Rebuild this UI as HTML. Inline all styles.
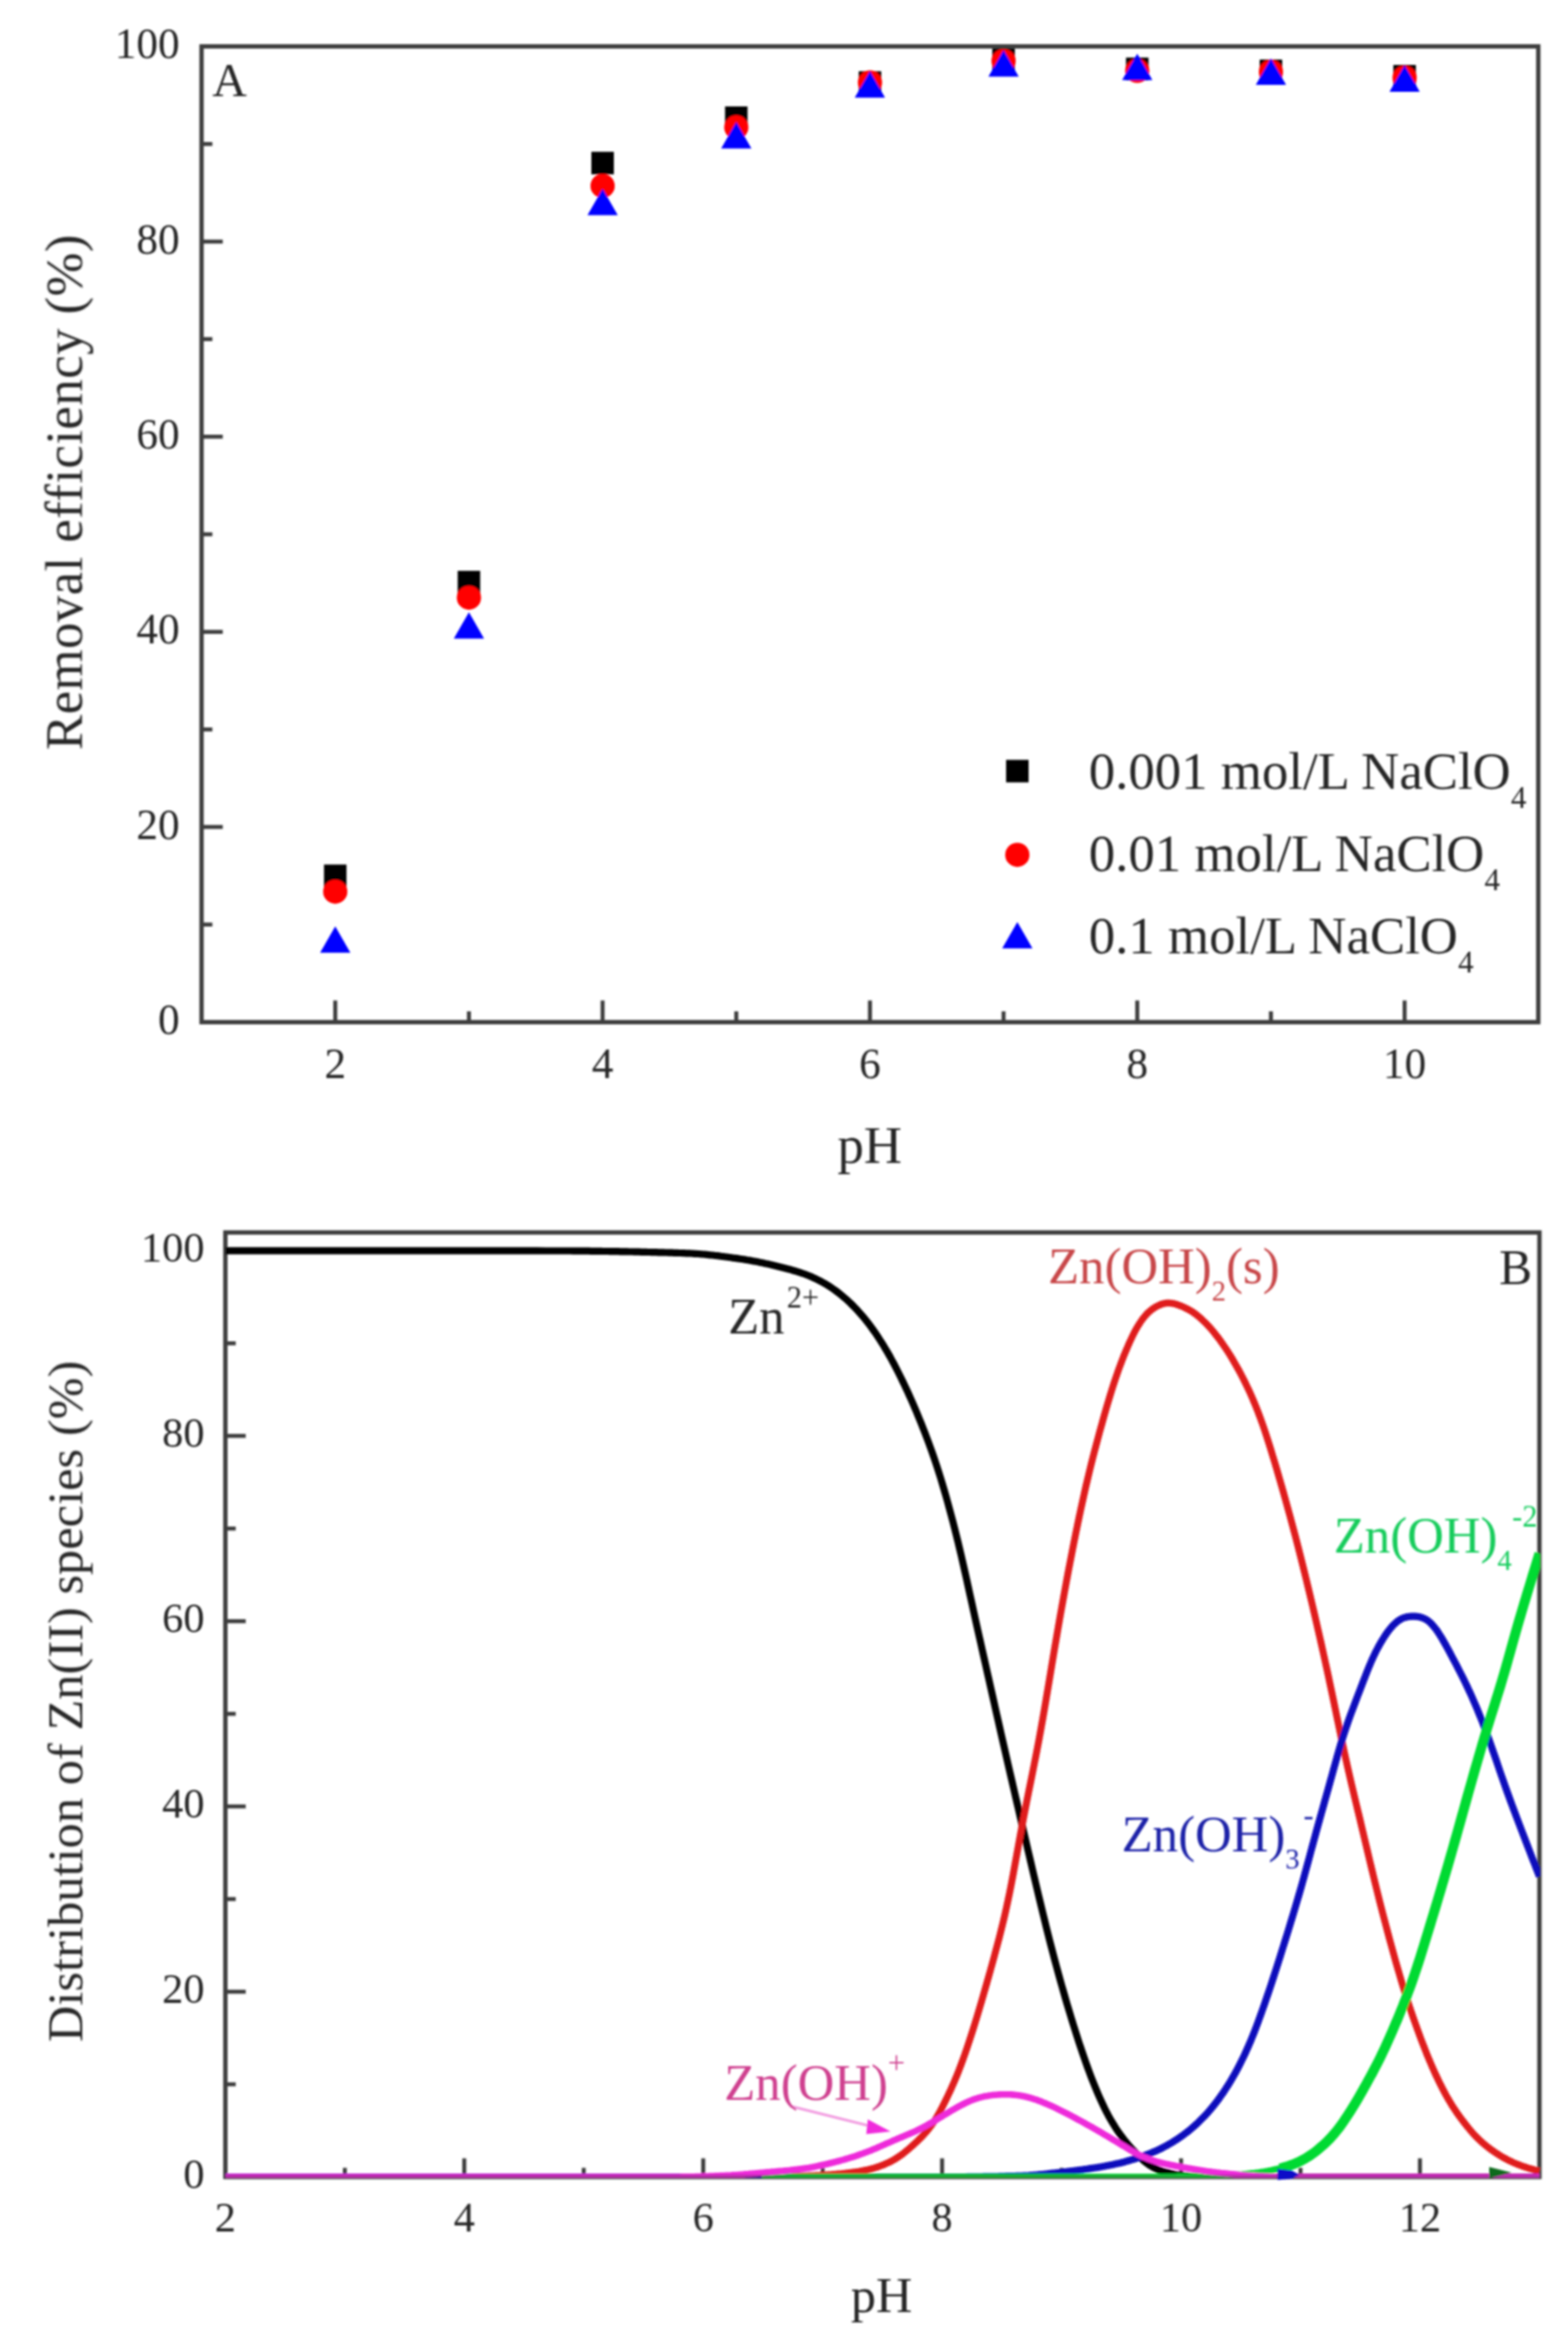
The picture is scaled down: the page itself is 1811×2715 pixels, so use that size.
<!DOCTYPE html>
<html lang="en">
<head>
<meta charset="utf-8">
<title>Removal efficiency and Zn(II) species distribution versus pH</title>
<style>
html,body{margin:0;padding:0;background:#ffffff;}
body{width:1811px;height:2715px;overflow:hidden;}
svg{display:block;}
svg text{font-family:"Liberation Serif", serif;}
</style>
</head>
<body>
<svg width="1811" height="2715" viewBox="0 0 1811 2715">
<rect x="0" y="0" width="1811" height="2715" fill="#ffffff"/>
<defs>
<filter id="soft" x="0" y="0" width="1811" height="2715" filterUnits="userSpaceOnUse"><feGaussianBlur stdDeviation="1.15"/></filter>
<filter id="soft2" x="0" y="0" width="1811" height="2715" filterUnits="userSpaceOnUse"><feGaussianBlur stdDeviation="0.6"/></filter>
</defs>
<g id="fig" filter="url(#soft)" fill="#262626">
<g id="plotA">
<line x1="232.8" y1="1067.7" x2="245.3" y2="1067.7" stroke="#3c3c3c" stroke-width="4.6"/>
<line x1="232.8" y1="955.0" x2="257.3" y2="955.0" stroke="#3c3c3c" stroke-width="4.6"/>
<line x1="232.8" y1="842.4" x2="245.3" y2="842.4" stroke="#3c3c3c" stroke-width="4.6"/>
<line x1="232.8" y1="729.7" x2="257.3" y2="729.7" stroke="#3c3c3c" stroke-width="4.6"/>
<line x1="232.8" y1="617.0" x2="245.3" y2="617.0" stroke="#3c3c3c" stroke-width="4.6"/>
<line x1="232.8" y1="504.3" x2="257.3" y2="504.3" stroke="#3c3c3c" stroke-width="4.6"/>
<line x1="232.8" y1="391.6" x2="245.3" y2="391.6" stroke="#3c3c3c" stroke-width="4.6"/>
<line x1="232.8" y1="279.0" x2="257.3" y2="279.0" stroke="#3c3c3c" stroke-width="4.6"/>
<line x1="232.8" y1="166.3" x2="245.3" y2="166.3" stroke="#3c3c3c" stroke-width="4.6"/>
<line x1="387.2" y1="1180.4" x2="387.2" y2="1155.4" stroke="#3c3c3c" stroke-width="4.6"/>
<line x1="541.6" y1="1180.4" x2="541.6" y2="1167.9" stroke="#3c3c3c" stroke-width="4.6"/>
<line x1="696.0" y1="1180.4" x2="696.0" y2="1155.4" stroke="#3c3c3c" stroke-width="4.6"/>
<line x1="850.4" y1="1180.4" x2="850.4" y2="1167.9" stroke="#3c3c3c" stroke-width="4.6"/>
<line x1="1004.8" y1="1180.4" x2="1004.8" y2="1155.4" stroke="#3c3c3c" stroke-width="4.6"/>
<line x1="1159.1" y1="1180.4" x2="1159.1" y2="1167.9" stroke="#3c3c3c" stroke-width="4.6"/>
<line x1="1313.5" y1="1180.4" x2="1313.5" y2="1155.4" stroke="#3c3c3c" stroke-width="4.6"/>
<line x1="1467.9" y1="1180.4" x2="1467.9" y2="1167.9" stroke="#3c3c3c" stroke-width="4.6"/>
<line x1="1622.3" y1="1180.4" x2="1622.3" y2="1155.4" stroke="#3c3c3c" stroke-width="4.6"/>
<rect x="374.2" y="998.4" width="26.0" height="26.0" fill="#000"/>
<rect x="528.6" y="659.2" width="26.0" height="26.0" fill="#000"/>
<rect x="683.0" y="175.3" width="26.0" height="26.0" fill="#000"/>
<rect x="837.4" y="122.9" width="26.0" height="26.0" fill="#000"/>
<rect x="991.8" y="82.3" width="26.0" height="26.0" fill="#000"/>
<rect x="1146.1" y="55.2" width="26.0" height="26.0" fill="#000"/>
<rect x="1300.5" y="66.5" width="26.0" height="26.0" fill="#000"/>
<rect x="1454.9" y="68.8" width="26.0" height="26.0" fill="#000"/>
<rect x="1609.3" y="75.0" width="26.0" height="26.0" fill="#000"/>
<circle cx="387.2" cy="1029.7" r="14.0" fill="#ff0000"/>
<circle cx="541.6" cy="690.2" r="14.0" fill="#ff0000"/>
<circle cx="696.0" cy="214.7" r="14.0" fill="#ff0000"/>
<circle cx="850.4" cy="147.1" r="14.0" fill="#ff0000"/>
<circle cx="1004.8" cy="95.3" r="14.0" fill="#ff0000"/>
<circle cx="1159.1" cy="70.5" r="14.0" fill="#ff0000"/>
<circle cx="1313.5" cy="81.8" r="14.0" fill="#ff0000"/>
<circle cx="1467.9" cy="82.9" r="14.0" fill="#ff0000"/>
<circle cx="1622.3" cy="89.7" r="14.0" fill="#ff0000"/>
<polygon points="387.2,1069.7 404.7,1100.2 369.7,1100.2" fill="#0000ff"/>
<polygon points="541.6,707.0 559.1,737.5 524.1,737.5" fill="#0000ff"/>
<polygon points="696.0,218.1 713.5,248.6 678.5,248.6" fill="#0000ff"/>
<polygon points="850.4,140.9 867.9,171.4 832.9,171.4" fill="#0000ff"/>
<polygon points="1004.8,82.3 1022.2,112.8 987.2,112.8" fill="#0000ff"/>
<polygon points="1159.1,58.1 1176.6,88.6 1141.6,88.6" fill="#0000ff"/>
<polygon points="1313.5,62.0 1331.0,92.5 1296.0,92.5" fill="#0000ff"/>
<polygon points="1467.9,67.6 1485.4,98.1 1450.4,98.1" fill="#0000ff"/>
<polygon points="1622.3,75.5 1639.8,106.0 1604.8,106.0" fill="#0000ff"/>
<rect x="232.8" y="53.6" width="1543.9" height="1126.8" fill="none" stroke="#3c3c3c" stroke-width="5.0"/>
<text x="207.5" y="1193.9" font-size="50" text-anchor="end">0</text>
<text x="207.5" y="968.5" font-size="50" text-anchor="end">20</text>
<text x="207.5" y="743.2" font-size="50" text-anchor="end">40</text>
<text x="207.5" y="517.8" font-size="50" text-anchor="end">60</text>
<text x="207.5" y="292.5" font-size="50" text-anchor="end">80</text>
<text x="207.5" y="67.1" font-size="50" text-anchor="end">100</text>
<text x="387.2" y="1244.5" font-size="50" text-anchor="middle">2</text>
<text x="696.0" y="1244.5" font-size="50" text-anchor="middle">4</text>
<text x="1004.8" y="1244.5" font-size="50" text-anchor="middle">6</text>
<text x="1313.5" y="1244.5" font-size="50" text-anchor="middle">8</text>
<text x="1622.3" y="1244.5" font-size="50" text-anchor="middle">10</text>
<text x="1004.6" y="1343" font-size="61" text-anchor="middle">pH</text>
<text transform="translate(94.6,568.2) rotate(-90)" font-size="61" letter-spacing="0.5" text-anchor="middle">Removal efficiency (%)</text>
<text x="245.3" y="110.5" font-size="55">A</text>
<text x="1257.5" y="911.3" font-size="61">0.001 mol/L NaClO<tspan dy="22" font-size="36">4</tspan></text>
<text x="1257.5" y="1005.8" font-size="61">0.01 mol/L NaClO<tspan dy="22" font-size="36">4</tspan></text>
<text x="1257.5" y="1101.3" font-size="61">0.1 mol/L NaClO<tspan dy="22" font-size="36">4</tspan></text>
<rect x="1162.0" y="877.5" width="26.0" height="26.0" fill="#000"/>
<circle cx="1175.0" cy="987.2" r="14.0" fill="#ff0000"/>
<polygon points="1175.0,1064.8 1192.5,1095.2 1157.5,1095.2" fill="#0000ff"/>
</g>
<g id="plotB">
<rect x="260.3" y="1423.3" width="1517.7" height="1090.7" fill="none" stroke="#3c3c3c" stroke-width="5.0"/>
<line x1="260.3" y1="2407.0" x2="272.3" y2="2407.0" stroke="#3c3c3c" stroke-width="4.6"/>
<line x1="260.3" y1="2300.1" x2="283.8" y2="2300.1" stroke="#3c3c3c" stroke-width="4.6"/>
<line x1="260.3" y1="2193.1" x2="272.3" y2="2193.1" stroke="#3c3c3c" stroke-width="4.6"/>
<line x1="260.3" y1="2086.1" x2="283.8" y2="2086.1" stroke="#3c3c3c" stroke-width="4.6"/>
<line x1="260.3" y1="1979.2" x2="272.3" y2="1979.2" stroke="#3c3c3c" stroke-width="4.6"/>
<line x1="260.3" y1="1872.2" x2="283.8" y2="1872.2" stroke="#3c3c3c" stroke-width="4.6"/>
<line x1="260.3" y1="1765.2" x2="272.3" y2="1765.2" stroke="#3c3c3c" stroke-width="4.6"/>
<line x1="260.3" y1="1658.2" x2="283.8" y2="1658.2" stroke="#3c3c3c" stroke-width="4.6"/>
<line x1="260.3" y1="1551.3" x2="272.3" y2="1551.3" stroke="#3c3c3c" stroke-width="4.6"/>
<line x1="260.3" y1="1444.3" x2="283.8" y2="1444.3" stroke="#3c3c3c" stroke-width="4.6"/>
<line x1="398.3" y1="2511.0" x2="398.3" y2="2503.5" stroke="#3c3c3c" stroke-width="4.6"/>
<line x1="536.2" y1="2511.0" x2="536.2" y2="2492.5" stroke="#3c3c3c" stroke-width="4.6"/>
<line x1="674.2" y1="2511.0" x2="674.2" y2="2503.5" stroke="#3c3c3c" stroke-width="4.6"/>
<line x1="812.2" y1="2511.0" x2="812.2" y2="2492.5" stroke="#3c3c3c" stroke-width="4.6"/>
<line x1="950.2" y1="2511.0" x2="950.2" y2="2503.5" stroke="#3c3c3c" stroke-width="4.6"/>
<line x1="1088.1" y1="2511.0" x2="1088.1" y2="2492.5" stroke="#3c3c3c" stroke-width="4.6"/>
<line x1="1226.1" y1="2511.0" x2="1226.1" y2="2503.5" stroke="#3c3c3c" stroke-width="4.6"/>
<line x1="1364.1" y1="2511.0" x2="1364.1" y2="2492.5" stroke="#3c3c3c" stroke-width="4.6"/>
<line x1="1502.1" y1="2511.0" x2="1502.1" y2="2503.5" stroke="#3c3c3c" stroke-width="4.6"/>
<line x1="1640.0" y1="2511.0" x2="1640.0" y2="2492.5" stroke="#3c3c3c" stroke-width="4.6"/>
<clipPath id="cb"><rect x="260.3" y="1423.3" width="1518.5" height="1091.7"/></clipPath>
<g clip-path="url(#cb)" fill="none" stroke-linejoin="round" stroke-linecap="butt" filter="url(#soft2)">
<path d="M260.3,1444.3 L548.3,1444.3 L568.3,1444.3 L584.3,1444.4 L598.3,1444.4 L610.3,1444.4 L620.3,1444.4 L630.3,1444.5 L640.3,1444.5 L648.3,1444.5 L654.3,1444.5 L658.3,1444.5 L662.3,1444.6 L666.3,1444.6 L670.3,1444.6 L672.3,1444.7 L674.3,1444.7 L676.3,1444.7 L678.3,1444.7 L680.3,1444.7 L682.3,1444.8 L684.3,1444.8 L686.3,1444.8 L688.3,1444.8 L690.3,1444.9 L692.3,1444.9 L694.3,1444.9 L696.3,1445.0 L698.3,1445.0 L700.3,1445.0 L702.3,1445.0 L704.3,1445.1 L706.3,1445.1 L708.3,1445.1 L710.3,1445.2 L712.3,1445.2 L714.3,1445.2 L716.3,1445.3 L718.3,1445.3 L720.3,1445.3 L722.3,1445.4 L724.3,1445.4 L726.3,1445.5 L728.3,1445.5 L730.3,1445.5 L732.3,1445.6 L734.3,1445.6 L736.3,1445.7 L738.3,1445.7 L740.3,1445.8 L742.3,1445.8 L744.3,1445.9 L746.3,1445.9 L748.3,1446.0 L750.3,1446.0 L752.3,1446.1 L754.3,1446.1 L756.3,1446.2 L758.3,1446.2 L760.3,1446.3 L762.3,1446.3 L764.3,1446.4 L766.3,1446.4 L768.3,1446.5 L770.3,1446.5 L772.3,1446.6 L774.3,1446.6 L776.3,1446.7 L778.3,1446.8 L780.3,1446.8 L782.3,1446.9 L784.3,1447.0 L786.3,1447.0 L788.3,1447.1 L790.3,1447.2 L792.3,1447.3 L794.3,1447.3 L796.3,1447.4 L798.3,1447.5 L800.3,1447.6 L802.3,1447.8 L804.3,1447.9 L806.3,1448.0 L808.3,1448.2 L810.3,1448.3 L812.3,1448.5 L814.3,1448.7 L816.3,1448.9 L818.3,1449.1 L820.3,1449.3 L822.3,1449.5 L824.3,1449.7 L826.3,1450.0 L828.3,1450.2 L830.3,1450.4 L832.3,1450.7 L834.3,1451.0 L836.3,1451.2 L838.3,1451.5 L840.3,1451.7 L842.3,1452.0 L844.3,1452.3 L846.3,1452.6 L848.3,1452.8 L850.3,1453.1 L852.3,1453.4 L854.3,1453.7 L856.3,1454.0 L858.3,1454.3 L860.3,1454.6 L862.3,1455.0 L864.3,1455.3 L866.3,1455.6 L868.3,1456.0 L870.3,1456.4 L872.3,1456.7 L874.3,1457.1 L876.3,1457.5 L878.3,1457.9 L880.3,1458.3 L882.3,1458.7 L884.3,1459.2 L886.3,1459.6 L888.3,1460.1 L890.3,1460.5 L892.3,1461.0 L894.3,1461.5 L896.3,1462.0 L898.3,1462.5 L900.3,1463.0 L902.3,1463.5 L904.3,1464.0 L906.3,1464.5 L908.3,1465.0 L910.3,1465.6 L912.3,1466.1 L914.3,1466.6 L916.3,1467.2 L918.3,1467.8 L920.3,1468.4 L922.3,1469.0 L924.3,1469.6 L926.3,1470.3 L928.3,1471.0 L930.3,1471.7 L932.3,1472.5 L934.3,1473.3 L936.3,1474.1 L938.3,1475.0 L940.3,1475.9 L942.3,1476.8 L944.3,1477.8 L946.3,1478.8 L948.3,1479.9 L950.3,1481.0 L952.3,1482.1 L954.3,1483.3 L956.3,1484.5 L958.3,1485.8 L960.3,1487.1 L962.3,1488.5 L964.3,1489.9 L966.3,1491.4 L968.3,1492.9 L970.3,1494.5 L972.3,1496.1 L974.3,1497.8 L976.3,1499.5 L978.3,1501.3 L980.3,1503.1 L982.3,1505.0 L984.3,1507.0 L986.3,1509.0 L988.3,1511.1 L990.3,1513.2 L992.3,1515.4 L994.3,1517.7 L996.3,1520.0 L998.3,1522.4 L1000.3,1524.9 L1002.3,1527.4 L1004.3,1530.0 L1006.3,1532.7 L1008.3,1535.5 L1010.3,1538.3 L1012.3,1541.3 L1014.3,1544.3 L1016.3,1547.4 L1018.3,1550.5 L1020.3,1553.7 L1022.3,1557.0 L1024.3,1560.4 L1026.3,1563.9 L1028.3,1567.4 L1030.3,1571.1 L1032.3,1574.8 L1034.3,1578.6 L1036.3,1582.5 L1038.3,1586.5 L1040.3,1590.5 L1042.3,1594.6 L1044.3,1598.8 L1046.3,1603.0 L1048.3,1607.3 L1050.3,1611.7 L1052.3,1616.1 L1054.3,1620.6 L1056.3,1625.3 L1058.3,1630.0 L1060.3,1634.8 L1062.3,1639.7 L1064.3,1644.6 L1066.3,1649.7 L1068.3,1654.8 L1070.3,1660.1 L1072.3,1665.4 L1074.3,1670.8 L1076.3,1676.4 L1078.3,1682.1 L1080.3,1688.0 L1082.3,1694.0 L1084.3,1700.2 L1086.3,1706.6 L1088.3,1713.2 L1090.3,1720.0 L1092.3,1726.9 L1094.3,1734.0 L1096.3,1741.3 L1098.3,1748.7 L1100.3,1756.3 L1102.3,1764.1 L1104.3,1772.0 L1106.3,1780.1 L1108.3,1788.5 L1110.3,1796.9 L1112.3,1805.6 L1114.3,1814.5 L1116.3,1823.4 L1118.3,1832.5 L1120.3,1841.6 L1122.3,1850.7 L1124.3,1859.8 L1126.3,1868.9 L1128.3,1877.9 L1130.3,1886.8 L1132.3,1895.7 L1134.3,1904.6 L1136.3,1913.5 L1138.3,1922.4 L1140.3,1931.3 L1142.3,1940.2 L1144.3,1949.1 L1146.3,1958.0 L1148.3,1966.9 L1150.3,1975.8 L1152.3,1984.7 L1154.3,1993.5 L1156.3,2002.3 L1158.3,2011.1 L1160.3,2019.9 L1162.3,2028.6 L1164.3,2037.3 L1166.3,2046.1 L1168.3,2054.7 L1170.3,2063.4 L1172.3,2072.1 L1174.3,2080.7 L1176.3,2089.3 L1178.3,2098.0 L1180.3,2106.6 L1182.3,2115.2 L1184.3,2123.8 L1186.3,2132.4 L1188.3,2140.9 L1190.3,2149.5 L1192.3,2158.1 L1194.3,2166.6 L1196.3,2175.1 L1198.3,2183.6 L1200.3,2192.0 L1202.3,2200.3 L1204.3,2208.6 L1206.3,2216.8 L1208.3,2224.9 L1210.3,2232.9 L1212.3,2240.9 L1214.3,2248.6 L1216.3,2256.3 L1218.3,2263.9 L1220.3,2271.3 L1222.3,2278.6 L1224.3,2285.9 L1226.3,2293.0 L1228.3,2300.0 L1230.3,2307.0 L1232.3,2313.8 L1234.3,2320.5 L1236.3,2327.2 L1238.3,2333.7 L1240.3,2340.1 L1242.3,2346.5 L1244.3,2352.7 L1246.3,2358.9 L1248.3,2364.9 L1250.3,2370.9 L1252.3,2376.7 L1254.3,2382.4 L1256.3,2388.0 L1258.3,2393.4 L1260.3,2398.7 L1262.3,2403.8 L1264.3,2408.8 L1266.3,2413.6 L1268.3,2418.3 L1270.3,2422.9 L1272.3,2427.3 L1274.3,2431.6 L1276.3,2435.7 L1278.3,2439.6 L1280.3,2443.4 L1282.3,2447.0 L1284.3,2450.4 L1286.3,2453.7 L1288.3,2456.9 L1290.3,2459.9 L1292.3,2462.8 L1294.3,2465.6 L1296.3,2468.3 L1298.3,2470.9 L1300.3,2473.4 L1302.3,2475.8 L1304.3,2478.1 L1306.3,2480.4 L1308.3,2482.6 L1310.3,2484.7 L1312.3,2486.8 L1314.3,2488.9 L1316.3,2490.9 L1318.3,2492.8 L1320.3,2494.6 L1322.3,2496.4 L1324.3,2498.0 L1326.3,2499.4 L1328.3,2500.8 L1330.3,2502.0 L1332.3,2503.1 L1334.3,2504.1 L1336.3,2505.0 L1338.3,2505.9 L1340.3,2506.6 L1342.3,2507.3 L1344.3,2508.0 L1346.3,2508.6 L1348.3,2509.1 L1350.3,2509.6 L1352.3,2510.1 L1354.3,2510.5 L1356.3,2511.0 L1358.3,2511.4 L1360.3,2511.7 L1362.3,2512.0 L1364.3,2512.3 L1366.3,2512.5 L1368.3,2512.8 L1370.3,2512.9 L1372.3,2513.1 L1374.3,2513.3 L1376.3,2513.4 L1378.3,2513.5 L1380.3,2513.6 L1382.3,2513.7 L1384.3,2513.7 L1386.3,2513.8 L1388.3,2513.8 L1390.3,2513.8 L1392.3,2513.9 L1396.3,2513.9 L1400.3,2513.9 L1404.3,2514.0 L1410.3,2514.0 L1778.0,2514.0" stroke="#000000" stroke-width="8.2"/>
<path d="M260.3,2514.0 L858.3,2514.0 L862.3,2513.9 L866.3,2513.9 L868.3,2513.9 L870.3,2513.9 L872.3,2513.9 L874.3,2513.8 L876.3,2513.8 L878.3,2513.8 L880.3,2513.8 L882.3,2513.7 L884.3,2513.7 L886.3,2513.7 L888.3,2513.6 L890.3,2513.6 L892.3,2513.6 L894.3,2513.5 L896.3,2513.5 L898.3,2513.4 L900.3,2513.4 L902.3,2513.4 L904.3,2513.3 L906.3,2513.3 L908.3,2513.2 L910.3,2513.2 L912.3,2513.2 L914.3,2513.1 L916.3,2513.1 L918.3,2513.0 L920.3,2513.0 L922.3,2512.9 L924.3,2512.9 L926.3,2512.8 L928.3,2512.8 L930.3,2512.7 L932.3,2512.7 L934.3,2512.6 L936.3,2512.5 L938.3,2512.5 L940.3,2512.4 L942.3,2512.3 L944.3,2512.2 L946.3,2512.2 L948.3,2512.1 L950.3,2512.0 L952.3,2511.8 L954.3,2511.7 L956.3,2511.6 L958.3,2511.5 L960.3,2511.3 L962.3,2511.1 L964.3,2511.0 L966.3,2510.8 L968.3,2510.6 L970.3,2510.4 L972.3,2510.2 L974.3,2510.0 L976.3,2509.8 L978.3,2509.5 L980.3,2509.3 L982.3,2509.1 L984.3,2508.8 L986.3,2508.5 L988.3,2508.2 L990.3,2507.9 L992.3,2507.6 L994.3,2507.2 L996.3,2506.8 L998.3,2506.5 L1000.3,2506.0 L1002.3,2505.6 L1004.3,2505.1 L1006.3,2504.6 L1008.3,2504.1 L1010.3,2503.5 L1012.3,2502.9 L1014.3,2502.2 L1016.3,2501.5 L1018.3,2500.8 L1020.3,2500.0 L1022.3,2499.1 L1024.3,2498.2 L1026.3,2497.3 L1028.3,2496.3 L1030.3,2495.3 L1032.3,2494.2 L1034.3,2493.0 L1036.3,2491.8 L1038.3,2490.4 L1040.3,2489.0 L1042.3,2487.6 L1044.3,2486.0 L1046.3,2484.4 L1048.3,2482.7 L1050.3,2481.0 L1052.3,2479.3 L1054.3,2477.5 L1056.3,2475.6 L1058.3,2473.8 L1060.3,2471.9 L1062.3,2469.9 L1064.3,2467.9 L1066.3,2465.8 L1068.3,2463.6 L1070.3,2461.3 L1072.3,2458.9 L1074.3,2456.3 L1076.3,2453.6 L1078.3,2450.7 L1080.3,2447.6 L1082.3,2444.3 L1084.3,2440.8 L1086.3,2437.1 L1088.3,2433.3 L1090.3,2429.4 L1092.3,2425.4 L1094.3,2421.3 L1096.3,2417.0 L1098.3,2412.7 L1100.3,2408.2 L1102.3,2403.6 L1104.3,2398.9 L1106.3,2393.9 L1108.3,2388.8 L1110.3,2383.5 L1112.3,2378.1 L1114.3,2372.5 L1116.3,2366.7 L1118.3,2360.8 L1120.3,2354.8 L1122.3,2348.6 L1124.3,2342.3 L1126.3,2335.9 L1128.3,2329.4 L1130.3,2322.7 L1132.3,2315.9 L1134.3,2309.1 L1136.3,2302.2 L1138.3,2295.2 L1140.3,2288.2 L1142.3,2281.1 L1144.3,2274.0 L1146.3,2266.8 L1148.3,2259.5 L1150.3,2252.0 L1152.3,2244.5 L1154.3,2236.9 L1156.3,2229.0 L1158.3,2220.9 L1160.3,2212.5 L1162.3,2203.7 L1164.3,2194.4 L1166.3,2184.7 L1168.3,2174.5 L1170.3,2163.9 L1172.3,2153.0 L1174.3,2142.0 L1176.3,2130.9 L1178.3,2120.0 L1180.3,2109.2 L1182.3,2098.7 L1184.3,2088.4 L1186.3,2078.3 L1188.3,2068.3 L1190.3,2058.4 L1192.3,2048.5 L1194.3,2038.5 L1196.3,2028.4 L1198.3,2018.0 L1200.3,2007.4 L1202.3,1996.5 L1204.3,1985.2 L1206.3,1973.7 L1208.3,1962.0 L1210.3,1950.1 L1212.3,1938.1 L1214.3,1926.1 L1216.3,1914.1 L1218.3,1902.2 L1220.3,1890.5 L1222.3,1878.9 L1224.3,1867.4 L1226.3,1856.1 L1228.3,1845.0 L1230.3,1834.1 L1232.3,1823.3 L1234.3,1812.6 L1236.3,1802.2 L1238.3,1791.9 L1240.3,1781.8 L1242.3,1771.8 L1244.3,1762.0 L1246.3,1752.4 L1248.3,1743.0 L1250.3,1733.8 L1252.3,1724.8 L1254.3,1716.0 L1256.3,1707.5 L1258.3,1699.1 L1260.3,1691.0 L1262.3,1683.1 L1264.3,1675.3 L1266.3,1667.7 L1268.3,1660.2 L1270.3,1652.8 L1272.3,1645.6 L1274.3,1638.4 L1276.3,1631.4 L1278.3,1624.4 L1280.3,1617.7 L1282.3,1611.0 L1284.3,1604.6 L1286.3,1598.3 L1288.3,1592.3 L1290.3,1586.5 L1292.3,1580.8 L1294.3,1575.4 L1296.3,1570.1 L1298.3,1565.1 L1300.3,1560.2 L1302.3,1555.5 L1304.3,1550.9 L1306.3,1546.6 L1308.3,1542.4 L1310.3,1538.4 L1312.3,1534.7 L1314.3,1531.3 L1316.3,1528.1 L1318.3,1525.1 L1320.3,1522.4 L1322.3,1519.9 L1324.3,1517.7 L1326.3,1515.7 L1328.3,1513.9 L1330.3,1512.3 L1332.3,1510.9 L1334.3,1509.6 L1336.3,1508.5 L1338.3,1507.5 L1340.3,1506.6 L1342.3,1505.9 L1344.3,1505.4 L1346.3,1505.0 L1348.3,1504.8 L1350.3,1504.8 L1352.3,1504.9 L1354.3,1505.2 L1356.3,1505.7 L1358.3,1506.2 L1360.3,1506.8 L1362.3,1507.6 L1364.3,1508.3 L1366.3,1509.2 L1368.3,1510.1 L1370.3,1511.1 L1372.3,1512.1 L1374.3,1513.2 L1376.3,1514.4 L1378.3,1515.7 L1380.3,1517.1 L1382.3,1518.7 L1384.3,1520.3 L1386.3,1522.0 L1388.3,1523.9 L1390.3,1525.8 L1392.3,1527.7 L1394.3,1529.8 L1396.3,1531.9 L1398.3,1534.2 L1400.3,1536.5 L1402.3,1538.9 L1404.3,1541.4 L1406.3,1544.0 L1408.3,1546.7 L1410.3,1549.4 L1412.3,1552.3 L1414.3,1555.2 L1416.3,1558.1 L1418.3,1561.2 L1420.3,1564.3 L1422.3,1567.6 L1424.3,1570.9 L1426.3,1574.4 L1428.3,1577.9 L1430.3,1581.5 L1432.3,1585.2 L1434.3,1589.0 L1436.3,1592.9 L1438.3,1596.9 L1440.3,1601.1 L1442.3,1605.3 L1444.3,1609.7 L1446.3,1614.2 L1448.3,1618.9 L1450.3,1623.8 L1452.3,1628.8 L1454.3,1634.0 L1456.3,1639.4 L1458.3,1645.0 L1460.3,1650.8 L1462.3,1656.8 L1464.3,1663.0 L1466.3,1669.3 L1468.3,1675.7 L1470.3,1682.3 L1472.3,1688.9 L1474.3,1695.7 L1476.3,1702.5 L1478.3,1709.4 L1480.3,1716.4 L1482.3,1723.4 L1484.3,1730.5 L1486.3,1737.7 L1488.3,1745.0 L1490.3,1752.3 L1492.3,1759.7 L1494.3,1767.2 L1496.3,1774.8 L1498.3,1782.5 L1500.3,1790.3 L1502.3,1798.2 L1504.3,1806.2 L1506.3,1814.3 L1508.3,1822.4 L1510.3,1830.7 L1512.3,1839.0 L1514.3,1847.4 L1516.3,1855.9 L1518.3,1864.5 L1520.3,1873.1 L1522.3,1881.8 L1524.3,1890.6 L1526.3,1899.5 L1528.3,1908.5 L1530.3,1917.5 L1532.3,1926.7 L1534.3,1935.9 L1536.3,1945.3 L1538.3,1954.8 L1540.3,1964.4 L1542.3,1974.0 L1544.3,1983.7 L1546.3,1993.3 L1548.3,2002.9 L1550.3,2012.3 L1552.3,2021.6 L1554.3,2030.8 L1556.3,2039.8 L1558.3,2048.6 L1560.3,2057.3 L1562.3,2065.8 L1564.3,2074.3 L1566.3,2082.6 L1568.3,2091.0 L1570.3,2099.3 L1572.3,2107.7 L1574.3,2116.1 L1576.3,2124.6 L1578.3,2133.0 L1580.3,2141.5 L1582.3,2149.9 L1584.3,2158.3 L1586.3,2166.6 L1588.3,2174.8 L1590.3,2182.9 L1592.3,2191.0 L1594.3,2198.9 L1596.3,2206.7 L1598.3,2214.4 L1600.3,2222.1 L1602.3,2229.6 L1604.3,2237.1 L1606.3,2244.5 L1608.3,2251.8 L1610.3,2259.0 L1612.3,2266.2 L1614.3,2273.1 L1616.3,2280.0 L1618.3,2286.8 L1620.3,2293.4 L1622.3,2299.8 L1624.3,2306.2 L1626.3,2312.3 L1628.3,2318.4 L1630.3,2324.3 L1632.3,2330.1 L1634.3,2335.8 L1636.3,2341.3 L1638.3,2346.8 L1640.3,2352.3 L1642.3,2357.6 L1644.3,2362.8 L1646.3,2367.9 L1648.3,2372.9 L1650.3,2377.7 L1652.3,2382.5 L1654.3,2387.1 L1656.3,2391.6 L1658.3,2396.0 L1660.3,2400.3 L1662.3,2404.4 L1664.3,2408.4 L1666.3,2412.3 L1668.3,2416.1 L1670.3,2419.8 L1672.3,2423.4 L1674.3,2426.8 L1676.3,2430.1 L1678.3,2433.3 L1680.3,2436.3 L1682.3,2439.3 L1684.3,2442.1 L1686.3,2444.9 L1688.3,2447.6 L1690.3,2450.2 L1692.3,2452.8 L1694.3,2455.4 L1696.3,2457.8 L1698.3,2460.2 L1700.3,2462.5 L1702.3,2464.8 L1704.3,2466.9 L1706.3,2468.9 L1708.3,2470.9 L1710.3,2472.7 L1712.3,2474.5 L1714.3,2476.2 L1716.3,2477.9 L1718.3,2479.5 L1720.3,2481.0 L1722.3,2482.5 L1724.3,2483.9 L1726.3,2485.3 L1728.3,2486.6 L1730.3,2487.9 L1732.3,2489.2 L1734.3,2490.4 L1736.3,2491.5 L1738.3,2492.7 L1740.3,2493.7 L1742.3,2494.8 L1744.3,2495.7 L1746.3,2496.7 L1748.3,2497.6 L1750.3,2498.4 L1752.3,2499.2 L1754.3,2500.0 L1756.3,2500.8 L1758.3,2501.5 L1760.3,2502.2 L1762.3,2502.8 L1764.3,2503.5 L1766.3,2504.1 L1768.3,2504.7 L1770.3,2505.2 L1772.3,2505.8 L1774.3,2506.3 L1776.3,2506.8 L1778.0,2507.3" stroke="#e01c1c" stroke-width="8.0"/>
<path d="M260.3,2514.0 L1110.3,2514.0 L1114.3,2514.0 L1118.3,2513.9 L1122.3,2513.9 L1124.3,2513.9 L1126.3,2513.9 L1128.3,2513.8 L1130.3,2513.8 L1132.3,2513.8 L1134.3,2513.8 L1136.3,2513.7 L1138.3,2513.7 L1140.3,2513.7 L1142.3,2513.6 L1144.3,2513.6 L1146.3,2513.6 L1148.3,2513.5 L1150.3,2513.5 L1152.3,2513.5 L1154.3,2513.4 L1156.3,2513.4 L1158.3,2513.3 L1160.3,2513.3 L1162.3,2513.2 L1164.3,2513.2 L1166.3,2513.1 L1168.3,2513.1 L1170.3,2513.1 L1172.3,2513.0 L1174.3,2512.9 L1176.3,2512.9 L1178.3,2512.8 L1180.3,2512.8 L1182.3,2512.7 L1184.3,2512.6 L1186.3,2512.5 L1188.3,2512.4 L1190.3,2512.2 L1192.3,2512.1 L1194.3,2511.9 L1196.3,2511.8 L1198.3,2511.6 L1200.3,2511.4 L1202.3,2511.2 L1204.3,2511.0 L1206.3,2510.8 L1208.3,2510.6 L1210.3,2510.4 L1212.3,2510.1 L1214.3,2509.9 L1216.3,2509.7 L1218.3,2509.5 L1220.3,2509.2 L1222.3,2509.0 L1224.3,2508.8 L1226.3,2508.6 L1228.3,2508.3 L1230.3,2508.1 L1232.3,2507.9 L1234.3,2507.6 L1236.3,2507.4 L1238.3,2507.1 L1240.3,2506.9 L1242.3,2506.6 L1244.3,2506.4 L1246.3,2506.1 L1248.3,2505.8 L1250.3,2505.6 L1252.3,2505.3 L1254.3,2505.0 L1256.3,2504.7 L1258.3,2504.4 L1260.3,2504.1 L1262.3,2503.8 L1264.3,2503.5 L1266.3,2503.2 L1268.3,2502.9 L1270.3,2502.5 L1272.3,2502.2 L1274.3,2501.8 L1276.3,2501.5 L1278.3,2501.1 L1280.3,2500.7 L1282.3,2500.3 L1284.3,2499.9 L1286.3,2499.5 L1288.3,2499.1 L1290.3,2498.6 L1292.3,2498.2 L1294.3,2497.7 L1296.3,2497.2 L1298.3,2496.7 L1300.3,2496.1 L1302.3,2495.6 L1304.3,2495.0 L1306.3,2494.4 L1308.3,2493.8 L1310.3,2493.2 L1312.3,2492.6 L1314.3,2491.9 L1316.3,2491.2 L1318.3,2490.5 L1320.3,2489.8 L1322.3,2489.1 L1324.3,2488.3 L1326.3,2487.6 L1328.3,2486.8 L1330.3,2486.0 L1332.3,2485.1 L1334.3,2484.3 L1336.3,2483.4 L1338.3,2482.4 L1340.3,2481.5 L1342.3,2480.5 L1344.3,2479.4 L1346.3,2478.4 L1348.3,2477.3 L1350.3,2476.1 L1352.3,2475.0 L1354.3,2473.8 L1356.3,2472.5 L1358.3,2471.3 L1360.3,2470.0 L1362.3,2468.6 L1364.3,2467.2 L1366.3,2465.8 L1368.3,2464.3 L1370.3,2462.8 L1372.3,2461.2 L1374.3,2459.6 L1376.3,2457.9 L1378.3,2456.2 L1380.3,2454.4 L1382.3,2452.6 L1384.3,2450.7 L1386.3,2448.7 L1388.3,2446.7 L1390.3,2444.7 L1392.3,2442.6 L1394.3,2440.4 L1396.3,2438.1 L1398.3,2435.8 L1400.3,2433.4 L1402.3,2430.9 L1404.3,2428.4 L1406.3,2425.7 L1408.3,2423.0 L1410.3,2420.2 L1412.3,2417.3 L1414.3,2414.4 L1416.3,2411.3 L1418.3,2408.2 L1420.3,2405.0 L1422.3,2401.6 L1424.3,2398.2 L1426.3,2394.7 L1428.3,2391.0 L1430.3,2387.3 L1432.3,2383.4 L1434.3,2379.3 L1436.3,2375.2 L1438.3,2370.9 L1440.3,2366.6 L1442.3,2362.0 L1444.3,2357.4 L1446.3,2352.5 L1448.3,2347.6 L1450.3,2342.4 L1452.3,2337.1 L1454.3,2331.7 L1456.3,2326.2 L1458.3,2320.5 L1460.3,2314.8 L1462.3,2309.0 L1464.3,2303.1 L1466.3,2297.2 L1468.3,2291.2 L1470.3,2285.1 L1472.3,2279.0 L1474.3,2272.8 L1476.3,2266.5 L1478.3,2260.2 L1480.3,2253.8 L1482.3,2247.4 L1484.3,2241.0 L1486.3,2234.6 L1488.3,2228.1 L1490.3,2221.5 L1492.3,2215.0 L1494.3,2208.4 L1496.3,2201.7 L1498.3,2194.9 L1500.3,2188.0 L1502.3,2181.1 L1504.3,2174.0 L1506.3,2166.8 L1508.3,2159.5 L1510.3,2152.2 L1512.3,2144.8 L1514.3,2137.3 L1516.3,2129.9 L1518.3,2122.5 L1520.3,2115.1 L1522.3,2107.9 L1524.3,2100.6 L1526.3,2093.5 L1528.3,2086.3 L1530.3,2079.2 L1532.3,2072.0 L1534.3,2064.9 L1536.3,2057.7 L1538.3,2050.5 L1540.3,2043.2 L1542.3,2036.0 L1544.3,2028.8 L1546.3,2021.8 L1548.3,2015.0 L1550.3,2008.5 L1552.3,2002.2 L1554.3,1996.2 L1556.3,1990.4 L1558.3,1984.7 L1560.3,1979.2 L1562.3,1973.8 L1564.3,1968.5 L1566.3,1963.2 L1568.3,1957.9 L1570.3,1952.7 L1572.3,1947.5 L1574.3,1942.3 L1576.3,1937.2 L1578.3,1932.1 L1580.3,1927.1 L1582.3,1922.2 L1584.3,1917.5 L1586.3,1913.1 L1588.3,1908.9 L1590.3,1905.0 L1592.3,1901.3 L1594.3,1897.7 L1596.3,1894.3 L1598.3,1891.1 L1600.3,1888.0 L1602.3,1885.2 L1604.3,1882.5 L1606.3,1880.0 L1608.3,1877.7 L1610.3,1875.7 L1612.3,1873.9 L1614.3,1872.2 L1616.3,1870.8 L1618.3,1869.7 L1620.3,1868.7 L1622.3,1868.0 L1624.3,1867.5 L1626.3,1867.0 L1628.3,1866.8 L1630.3,1866.6 L1632.3,1866.6 L1634.3,1866.6 L1636.3,1866.8 L1638.3,1867.1 L1640.3,1867.5 L1642.3,1868.1 L1644.3,1868.8 L1646.3,1869.8 L1648.3,1871.0 L1650.3,1872.5 L1652.3,1874.3 L1654.3,1876.4 L1656.3,1878.7 L1658.3,1881.2 L1660.3,1884.0 L1662.3,1887.1 L1664.3,1890.2 L1666.3,1893.6 L1668.3,1897.1 L1670.3,1900.6 L1672.3,1904.3 L1674.3,1908.0 L1676.3,1911.8 L1678.3,1915.6 L1680.3,1919.4 L1682.3,1923.2 L1684.3,1927.1 L1686.3,1931.0 L1688.3,1934.9 L1690.3,1938.9 L1692.3,1943.0 L1694.3,1947.1 L1696.3,1951.4 L1698.3,1955.7 L1700.3,1960.2 L1702.3,1964.8 L1704.3,1969.4 L1706.3,1974.2 L1708.3,1979.1 L1710.3,1984.1 L1712.3,1989.1 L1714.3,1994.3 L1716.3,1999.6 L1718.3,2005.0 L1720.3,2010.5 L1722.3,2016.1 L1724.3,2021.8 L1726.3,2027.6 L1728.3,2033.4 L1730.3,2039.3 L1732.3,2045.2 L1734.3,2051.0 L1736.3,2056.7 L1738.3,2062.4 L1740.3,2068.0 L1742.3,2073.5 L1744.3,2079.0 L1746.3,2084.4 L1748.3,2089.7 L1750.3,2095.1 L1752.3,2100.4 L1754.3,2105.6 L1756.3,2110.9 L1758.3,2116.1 L1760.3,2121.3 L1762.3,2126.5 L1764.3,2131.7 L1766.3,2136.9 L1768.3,2142.1 L1770.3,2147.2 L1772.3,2152.4 L1774.3,2157.5 L1776.3,2162.6 L1778.0,2167.0" stroke="#0808bc" stroke-width="8.2"/>
<path d="M880.0,2514.0 L1354.0,2514.0 L1358.0,2514.0 L1360.0,2513.9 L1362.0,2513.9 L1364.0,2513.9 L1366.0,2513.9 L1368.0,2513.8 L1370.0,2513.8 L1372.0,2513.7 L1374.0,2513.7 L1376.0,2513.6 L1378.0,2513.6 L1380.0,2513.5 L1382.0,2513.5 L1384.0,2513.4 L1386.0,2513.4 L1388.0,2513.3 L1390.0,2513.2 L1392.0,2513.2 L1394.0,2513.1 L1396.0,2513.0 L1398.0,2512.9 L1400.0,2512.9 L1402.0,2512.8 L1404.0,2512.7 L1406.0,2512.6 L1408.0,2512.5 L1410.0,2512.4 L1412.0,2512.4 L1414.0,2512.3 L1416.0,2512.2 L1418.0,2512.1 L1420.0,2512.0 L1422.0,2511.9 L1424.0,2511.8 L1426.0,2511.6 L1428.0,2511.5 L1430.0,2511.4 L1432.0,2511.2 L1434.0,2511.1 L1436.0,2510.9 L1438.0,2510.7 L1440.0,2510.5 L1442.0,2510.3 L1444.0,2510.1 L1446.0,2509.9 L1448.0,2509.7 L1450.0,2509.4 L1452.0,2509.2 L1454.0,2508.9 L1456.0,2508.6 L1458.0,2508.2 L1460.0,2507.9 L1462.0,2507.5 L1464.0,2507.2 L1466.0,2506.8 L1468.0,2506.4 L1470.0,2505.9 L1472.0,2505.5 L1474.0,2505.1 L1476.0,2504.6 L1478.0,2504.2 L1480.0,2503.7 L1482.0,2503.1" stroke="#00d830" stroke-width="7.6"/>
<path d="M1478.0,2504.2 L1480.0,2503.7 L1482.0,2503.1 L1484.0,2502.6 L1486.0,2502.0 L1488.0,2501.4 L1490.0,2500.7 L1492.0,2500.0 L1494.0,2499.2 L1496.0,2498.4 L1498.0,2497.5 L1500.0,2496.6 L1502.0,2495.6 L1504.0,2494.6 L1506.0,2493.5 L1508.0,2492.4 L1510.0,2491.2 L1512.0,2489.9 L1514.0,2488.6 L1516.0,2487.2 L1518.0,2485.7 L1520.0,2484.2 L1522.0,2482.6 L1524.0,2480.9 L1526.0,2479.2 L1528.0,2477.5 L1530.0,2475.7 L1532.0,2473.8 L1534.0,2471.8 L1536.0,2469.7 L1538.0,2467.6 L1540.0,2465.3 L1542.0,2463.0 L1544.0,2460.5 L1546.0,2458.0 L1548.0,2455.3 L1550.0,2452.5 L1552.0,2449.7 L1554.0,2446.7 L1556.0,2443.7 L1558.0,2440.6 L1560.0,2437.4 L1562.0,2434.2 L1564.0,2431.0 L1566.0,2427.7 L1568.0,2424.3 L1570.0,2420.9 L1572.0,2417.4 L1574.0,2413.9 L1576.0,2410.3 L1578.0,2406.7 L1580.0,2403.1 L1582.0,2399.4 L1584.0,2395.8 L1586.0,2392.0 L1588.0,2388.2 L1590.0,2384.4 L1592.0,2380.5 L1594.0,2376.4 L1596.0,2372.3 L1598.0,2368.1 L1600.0,2363.8 L1602.0,2359.4 L1604.0,2355.0 L1606.0,2350.5 L1608.0,2345.9 L1610.0,2341.3 L1612.0,2336.6 L1614.0,2331.9 L1616.0,2327.1 L1618.0,2322.2 L1620.0,2317.3 L1622.0,2312.2 L1624.0,2307.1 L1626.0,2301.8 L1628.0,2296.5 L1630.0,2291.0 L1632.0,2285.3 L1634.0,2279.5 L1636.0,2273.5 L1638.0,2267.4 L1640.0,2261.2 L1642.0,2254.8 L1644.0,2248.4 L1646.0,2241.9 L1648.0,2235.4 L1650.0,2228.8 L1652.0,2222.3 L1654.0,2215.7 L1656.0,2209.1 L1658.0,2202.5 L1660.0,2195.9 L1662.0,2189.2 L1664.0,2182.5 L1666.0,2175.7 L1668.0,2168.9 L1670.0,2162.1 L1672.0,2155.3 L1674.0,2148.4 L1676.0,2141.4 L1678.0,2134.5 L1680.0,2127.4 L1682.0,2120.4 L1684.0,2113.3 L1686.0,2106.1 L1688.0,2098.9 L1690.0,2091.8 L1692.0,2084.6 L1694.0,2077.4 L1696.0,2070.3 L1698.0,2063.2 L1700.0,2056.2 L1702.0,2049.1 L1704.0,2042.2 L1706.0,2035.2 L1708.0,2028.3 L1710.0,2021.5 L1712.0,2014.7 L1714.0,2007.9 L1716.0,2001.3 L1718.0,1994.7 L1720.0,1988.3 L1722.0,1981.8 L1724.0,1975.5 L1726.0,1969.2 L1728.0,1962.8 L1730.0,1956.4 L1732.0,1950.0 L1734.0,1943.4 L1736.0,1936.7 L1738.0,1929.9 L1740.0,1922.9 L1742.0,1915.8 L1744.0,1908.6 L1746.0,1901.4 L1748.0,1894.2 L1750.0,1887.1 L1752.0,1880.1 L1754.0,1873.2 L1756.0,1866.3 L1758.0,1859.6 L1760.0,1852.9 L1762.0,1846.3 L1764.0,1839.7 L1766.0,1833.1 L1768.0,1826.6 L1770.0,1820.0 L1772.0,1813.5 L1774.0,1807.0 L1776.0,1800.5 L1778.0,1794.0" stroke="#00da30" stroke-width="11.4"/>
<path d="M260.3,2514.0 L784.3,2514.0 L788.3,2513.9 L790.3,2513.9 L792.3,2513.9 L794.3,2513.9 L796.3,2513.8 L798.3,2513.8 L800.3,2513.7 L802.3,2513.7 L804.3,2513.6 L806.3,2513.6 L808.3,2513.5 L810.3,2513.5 L812.3,2513.4 L814.3,2513.3 L816.3,2513.3 L818.3,2513.2 L820.3,2513.1 L822.3,2513.0 L824.3,2513.0 L826.3,2512.9 L828.3,2512.8 L830.3,2512.7 L832.3,2512.6 L834.3,2512.5 L836.3,2512.5 L838.3,2512.4 L840.3,2512.3 L842.3,2512.2 L844.3,2512.1 L846.3,2511.9 L848.3,2511.8 L850.3,2511.7 L852.3,2511.5 L854.3,2511.4 L856.3,2511.2 L858.3,2511.1 L860.3,2510.9 L862.3,2510.7 L864.3,2510.6 L866.3,2510.4 L868.3,2510.2 L870.3,2510.0 L872.3,2509.9 L874.3,2509.7 L876.3,2509.5 L878.3,2509.3 L880.3,2509.2 L882.3,2509.0 L884.3,2508.8 L886.3,2508.6 L888.3,2508.5 L890.3,2508.3 L892.3,2508.1 L894.3,2508.0 L896.3,2507.8 L898.3,2507.6 L900.3,2507.4 L902.3,2507.2 L904.3,2507.1 L906.3,2506.9 L908.3,2506.7 L910.3,2506.5 L912.3,2506.3 L914.3,2506.0 L916.3,2505.8 L918.3,2505.6 L920.3,2505.4 L922.3,2505.1 L924.3,2504.9 L926.3,2504.6 L928.3,2504.3 L930.3,2504.0 L932.3,2503.7 L934.3,2503.4 L936.3,2503.0 L938.3,2502.7 L940.3,2502.3 L942.3,2501.9 L944.3,2501.4 L946.3,2501.0 L948.3,2500.5 L950.3,2500.1 L952.3,2499.6 L954.3,2499.2 L956.3,2498.7 L958.3,2498.2 L960.3,2497.7 L962.3,2497.3 L964.3,2496.8 L966.3,2496.2 L968.3,2495.7 L970.3,2495.2 L972.3,2494.6 L974.3,2494.1 L976.3,2493.5 L978.3,2492.9 L980.3,2492.3 L982.3,2491.7 L984.3,2491.1 L986.3,2490.5 L988.3,2489.8 L990.3,2489.1 L992.3,2488.4 L994.3,2487.7 L996.3,2487.0 L998.3,2486.2 L1000.3,2485.5 L1002.3,2484.7 L1004.3,2484.0 L1006.3,2483.2 L1008.3,2482.3 L1010.3,2481.5 L1012.3,2480.7 L1014.3,2479.8 L1016.3,2478.9 L1018.3,2478.0 L1020.3,2477.1 L1022.3,2476.2 L1024.3,2475.3 L1026.3,2474.5 L1028.3,2473.6 L1030.3,2472.7 L1032.3,2471.8 L1034.3,2471.0 L1036.3,2470.1 L1038.3,2469.3 L1040.3,2468.4 L1042.3,2467.6 L1044.3,2466.7 L1046.3,2465.9 L1048.3,2465.0 L1050.3,2464.2 L1052.3,2463.3 L1054.3,2462.5 L1056.3,2461.6 L1058.3,2460.7 L1060.3,2459.7 L1062.3,2458.7 L1064.3,2457.7 L1066.3,2456.7 L1068.3,2455.6 L1070.3,2454.5 L1072.3,2453.3 L1074.3,2452.2 L1076.3,2451.0 L1078.3,2449.9 L1080.3,2448.7 L1082.3,2447.5 L1084.3,2446.3 L1086.3,2445.1 L1088.3,2443.9 L1090.3,2442.6 L1092.3,2441.4 L1094.3,2440.2 L1096.3,2439.0 L1098.3,2437.8 L1100.3,2436.6 L1102.3,2435.5 L1104.3,2434.3 L1106.3,2433.2 L1108.3,2432.1 L1110.3,2431.0 L1112.3,2430.0 L1114.3,2429.0 L1116.3,2428.0 L1118.3,2427.1 L1120.3,2426.3 L1122.3,2425.4 L1124.3,2424.7 L1126.3,2423.9 L1128.3,2423.3 L1130.3,2422.6 L1132.3,2422.1 L1134.3,2421.6 L1136.3,2421.1 L1138.3,2420.7 L1140.3,2420.4 L1142.3,2420.0 L1144.3,2419.8 L1146.3,2419.5 L1148.3,2419.3 L1150.3,2419.2 L1152.3,2419.0 L1154.3,2418.9 L1156.3,2418.8 L1158.3,2418.8 L1160.3,2418.7 L1162.3,2418.7 L1164.3,2418.8 L1166.3,2418.8 L1168.3,2418.9 L1170.3,2419.1 L1172.3,2419.3 L1174.3,2419.5 L1176.3,2419.7 L1178.3,2420.0 L1180.3,2420.4 L1182.3,2420.8 L1184.3,2421.2 L1186.3,2421.7 L1188.3,2422.3 L1190.3,2422.8 L1192.3,2423.4 L1194.3,2424.1 L1196.3,2424.7 L1198.3,2425.4 L1200.3,2426.2 L1202.3,2426.9 L1204.3,2427.7 L1206.3,2428.6 L1208.3,2429.4 L1210.3,2430.3 L1212.3,2431.1 L1214.3,2432.0 L1216.3,2432.9 L1218.3,2433.9 L1220.3,2434.8 L1222.3,2435.8 L1224.3,2436.8 L1226.3,2437.8 L1228.3,2438.8 L1230.3,2439.8 L1232.3,2440.8 L1234.3,2441.9 L1236.3,2442.9 L1238.3,2444.0 L1240.3,2445.1 L1242.3,2446.2 L1244.3,2447.3 L1246.3,2448.4 L1248.3,2449.4 L1250.3,2450.5 L1252.3,2451.6 L1254.3,2452.8 L1256.3,2453.9 L1258.3,2455.0 L1260.3,2456.1 L1262.3,2457.2 L1264.3,2458.4 L1266.3,2459.5 L1268.3,2460.7 L1270.3,2461.8 L1272.3,2463.0 L1274.3,2464.2 L1276.3,2465.4 L1278.3,2466.6 L1280.3,2467.8 L1282.3,2469.0 L1284.3,2470.2 L1286.3,2471.4 L1288.3,2472.6 L1290.3,2473.8 L1292.3,2475.0 L1294.3,2476.2 L1296.3,2477.4 L1298.3,2478.6 L1300.3,2479.8 L1302.3,2481.0 L1304.3,2482.2 L1306.3,2483.4 L1308.3,2484.6 L1310.3,2485.7 L1312.3,2486.8 L1314.3,2487.8 L1316.3,2488.8 L1318.3,2489.8 L1320.3,2490.7 L1322.3,2491.5 L1324.3,2492.3 L1326.3,2493.1 L1328.3,2493.8 L1330.3,2494.5 L1332.3,2495.2 L1334.3,2495.8 L1336.3,2496.4 L1338.3,2496.9 L1340.3,2497.5 L1342.3,2498.0 L1344.3,2498.4 L1346.3,2498.9 L1348.3,2499.3 L1350.3,2499.8 L1352.3,2500.2 L1354.3,2500.6 L1356.3,2501.0 L1358.3,2501.4 L1360.3,2501.8 L1362.3,2502.1 L1364.3,2502.5 L1366.3,2502.9 L1368.3,2503.2 L1370.3,2503.6 L1372.3,2503.9 L1374.3,2504.2 L1376.3,2504.6 L1378.3,2504.9 L1380.3,2505.3 L1382.3,2505.6 L1384.3,2505.9 L1386.3,2506.3 L1388.3,2506.6 L1390.3,2506.9 L1392.3,2507.2 L1394.3,2507.5 L1396.3,2507.7 L1398.3,2508.0 L1400.3,2508.3 L1402.3,2508.5 L1404.3,2508.8 L1406.3,2509.0 L1408.3,2509.2 L1410.3,2509.5 L1412.3,2509.7 L1414.3,2509.9 L1416.3,2510.1 L1418.3,2510.3 L1420.3,2510.5 L1422.3,2510.7 L1424.3,2510.9 L1426.3,2511.1 L1428.3,2511.3 L1430.3,2511.5 L1432.3,2511.7 L1434.3,2511.9 L1436.3,2512.0 L1438.3,2512.2 L1440.3,2512.4 L1442.3,2512.5 L1444.3,2512.6 L1446.3,2512.8 L1448.3,2512.9 L1450.3,2513.0 L1452.3,2513.1 L1454.3,2513.2 L1456.3,2513.3 L1458.3,2513.4 L1460.3,2513.5 L1462.3,2513.6 L1464.3,2513.6 L1466.3,2513.7 L1468.3,2513.8 L1470.3,2513.8 L1472.3,2513.9 L1474.3,2513.9 L1476.3,2513.9 L1478.3,2514.0 L1482.3,2514.0 L1778.0,2514.0" stroke="#ee2cda" stroke-width="7.6"/>
</g>
<line x1="260.3" y1="2513.2" x2="1778.0" y2="2513.2" stroke="#3c3c3c" stroke-width="3.6" opacity="0.3"/>
<polygon points="1475.5,2504.5 1492,2506.5 1500.5,2511.5 1492,2516 1475.5,2517.5" fill="#0a0ac8"/>
<polygon points="1720,2502.5 1746,2509 1720,2515.5" fill="#0a6a1e"/>
<path d="M912,2432 L1004,2455" stroke="#f29be0" stroke-width="3" fill="none"/>
<polygon points="1002.3,2447.6 1028.5,2461.6 1000.5,2464.4" fill="#f02cdc"/>
<text x="236.3" y="2526.8" font-size="49" text-anchor="end">0</text>
<text x="236.3" y="2312.9" font-size="49" text-anchor="end">20</text>
<text x="236.3" y="2098.9" font-size="49" text-anchor="end">40</text>
<text x="236.3" y="1885.0" font-size="49" text-anchor="end">60</text>
<text x="236.3" y="1671.0" font-size="49" text-anchor="end">80</text>
<text x="236.3" y="1457.1" font-size="49" text-anchor="end">100</text>
<text x="260.3" y="2577" font-size="49" text-anchor="middle">2</text>
<text x="536.2" y="2577" font-size="49" text-anchor="middle">4</text>
<text x="812.2" y="2577" font-size="49" text-anchor="middle">6</text>
<text x="1088.1" y="2577" font-size="49" text-anchor="middle">8</text>
<text x="1364.1" y="2577" font-size="49" text-anchor="middle">10</text>
<text x="1640.0" y="2577" font-size="49" text-anchor="middle">12</text>
<text x="1018.2" y="2669.5" font-size="58" text-anchor="middle">pH</text>
<text transform="translate(95,1964.6) rotate(-90)" font-size="58" letter-spacing="0.12" text-anchor="middle">Distribution of Zn(II) species (%)</text>
<text x="1731.5" y="1482.5" font-size="57">B</text>
<text x="841" y="1540" font-size="58.7" fill="#262626">Zn<tspan dx="2.5" dy="-30.5" font-size="35">2+</tspan></text>
<text x="1210.5" y="1482.2" font-size="58.7" fill="#c8474a">Zn(OH)<tspan dy="20.0" font-size="33">2</tspan><tspan dy="-20.0" font-size="58.7">(s)</tspan></text>
<text x="1540.5" y="1793" font-size="58.7" fill="#14cc5c">Zn(OH)<tspan dy="20.0" font-size="33">4</tspan><tspan dx="0.5" dy="-50.5" font-size="35">-2</tspan></text>
<text x="1295.5" y="2138.3" font-size="58.7" fill="#1f22a8">Zn(OH)<tspan dy="20.0" font-size="33">3</tspan><tspan dx="4.5" dy="-50.5" font-size="35">-</tspan></text>
<text x="836.5" y="2424.6" font-size="58.7" fill="#cf3f8f">Zn(OH)<tspan dx="0.0" dy="-30.5" font-size="35">+</tspan></text>
</g>
</g>
</svg>
</body>
</html>
